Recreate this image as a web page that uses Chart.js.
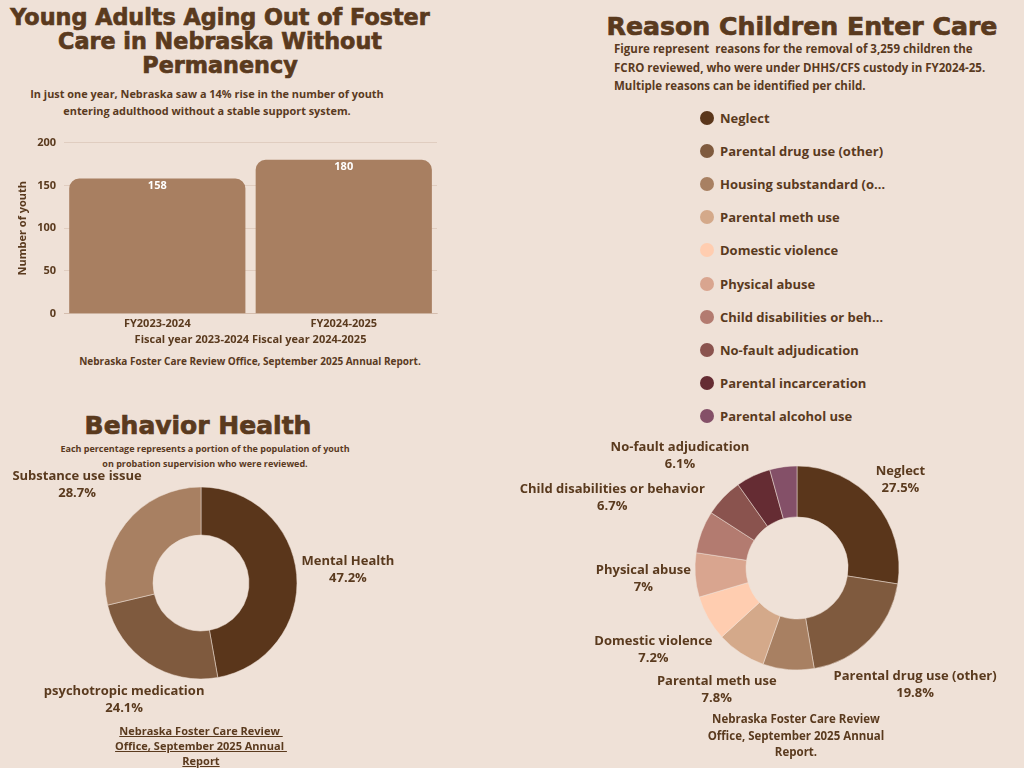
<!DOCTYPE html>
<html>
<head>
<meta charset="utf-8">
<script src="https://cdn.jsdelivr.net/npm/chart.js"></script>
<style>
  html, body { margin: 0; padding: 0; width: 1024px; height: 768px; overflow: hidden; background: #efe1d7; }
  body { position: relative; font-family: "Open Sans", sans-serif; font-weight: 700; color: #5a3a1e; }
  .abs { position: absolute; }
  .title { font-family: "DejaVu Sans", sans-serif; font-weight: 700; text-align: center; -webkit-text-stroke: 0.7px #5a3a1e; }
  .center { text-align: center; }
  #legend { left: 700px; top: 101px; }
  .item { height: 33.2px; display: flex; align-items: center; font-size: 13px; }
  .dot { width: 14px; height: 14px; border-radius: 50%; margin-right: 6px; flex: none; }
  .name { max-width: 166px; white-space: nowrap; overflow: hidden; text-overflow: ellipsis; }
</style>
</head>
<body>

<div class="abs title" style="left:0;top:5px;width:440px;font-size:22.3px;line-height:24px;">Young Adults Aging Out of Foster<br>Care in Nebraska Without<br>Permanency</div>
<div class="abs center" style="left:7px;top:85px;width:400px;font-size:10.9px;line-height:17px;">In just one year, Nebraska saw a 14% rise in the number of youth<br>entering adulthood without a stable support system.</div>
<div class="abs" style="left:12px;top:128px;width:438px;height:221px;"><canvas id="barCanvas"></canvas></div>
<div class="abs center" style="left:50px;top:353px;width:400px;font-size:10px;line-height:16px;">Nebraska Foster Care Review Office, September 2025 Annual Report.</div>

<div class="abs title" style="left:0;top:411px;width:396px;font-size:25px;line-height:30px;">Behavior Health</div>
<div class="abs center" style="left:5px;top:441px;width:400px;font-size:9px;line-height:15px;">Each percentage represents a portion of the population of youth<br>on probation supervision who were reviewed.</div>
<div class="abs" style="left:0;top:433px;width:402px;height:300px;"><canvas id="healthCanvas"></canvas></div>
<div class="abs center" style="left:101px;top:723px;width:200px;font-size:11px;line-height:15px;text-decoration:underline;">Nebraska Foster Care Review&nbsp;<br>Office, September 2025 Annual&nbsp;<br>Report</div>

<div class="abs title" style="left:562px;top:12px;width:480px;font-size:25.2px;line-height:30px;">Reason Children Enter Care</div>
<div class="abs" style="left:614px;top:40px;width:410px;font-size:11.5px;line-height:18.5px;">Figure represent&nbsp; reasons for the removal of 3,259 children the<br>FCRO reviewed, who were under DHHS/CFS custody in FY2024-25.<br>Multiple reasons can be identified per child.</div>
<div class="abs" id="legend"></div>
<div class="abs" style="left:505px;top:420px;width:519px;height:340px;"><canvas id="reasonCanvas"></canvas></div>
<div class="abs center" style="left:696px;top:711px;width:200px;font-size:11.5px;line-height:16.5px;">Nebraska Foster Care Review<br>Office, September 2025 Annual<br>Report.</div>

<script>
const fiscalYears = ["FY2023-2024", "FY2024-2025"];
const youthCounts = [158, 180];
const youthTicks = [0, 50, 100, 150, 200];

const healthLabels = ["Mental Health", "psychotropic medication", "Substance use issue"];
const healthValues = [47.2, 24.1, 28.7];

const reasonLabels = [
  "Neglect",
  "Parental drug use (other)",
  "Housing substandard (or homeless)",
  "Parental meth use",
  "Domestic violence",
  "Physical abuse",
  "Child disabilities or behavior",
  "No-fault adjudication",
  "Parental incarceration",
  "Parental alcohol use",
];
const reasonValues = [27.5, 19.8, 8.1, 7.8, 7.2, 7, 6.7, 6.1, 5.5, 4.3];

const textColor = "#5a3a1e";
const healthColors = ["#5a361b", "#7f5a3e", "#a88062"];
const reasonColors = [
  "#5a361b", "#7f5a3e", "#a88062", "#d4a98a", "#ffcdb0",
  "#d9a58f", "#b37b70", "#8a534e", "#652c33", "#845068",
];

const font = (size) => ({ family: "Open Sans", size: size, weight: "bold" });

// white value inside top of each bar
const barValues = {
  id: "barValues",
  afterDatasetsDraw(chart) {
    const ctx = chart.ctx;
    const meta = chart.getDatasetMeta(0);
    ctx.save();
    ctx.font = "bold 11px 'Open Sans'";
    ctx.fillStyle = "#ffffff";
    ctx.textAlign = "center";
    ctx.textBaseline = "middle";
    meta.data.forEach((bar, i) => {
      ctx.fillText(chart.data.datasets[0].data[i], bar.x, bar.y + 7);
    });
    ctx.restore();
  },
};

// two-line labels outside each arc, pushed out along the mid angle
const outerLabels = {
  id: "outerLabels",
  afterDatasetsDraw(chart, args, opts) {
    const ctx = chart.ctx;
    const meta = chart.getDatasetMeta(0);
    const data = chart.data.datasets[0].data;
    const lh = 17;
    ctx.save();
    ctx.font = "bold 13px 'Open Sans'";
    ctx.fillStyle = textColor;
    ctx.textAlign = "center";
    ctx.textBaseline = "middle";
    meta.data.forEach((arc, i) => {
      if ((opts.hidden || []).includes(i)) return;
      const p = arc.getProps(["x", "y", "startAngle", "endAngle", "outerRadius"], true);
      const mid = (p.startAngle + p.endAngle) / 2;
      const line1 = chart.data.labels[i];
      const line2 = data[i] + "%";
      const w = Math.max(ctx.measureText(line1).width, ctx.measureText(line2).width);
      const h = lh * 2;
      let d = p.outerRadius;
      let cx, cy;
      for (; d < p.outerRadius + 400; d += 0.5) {
        cx = Math.cos(mid) * d;
        cy = Math.sin(mid) * d;
        const nx = Math.min(Math.max(0, cx - w / 2), cx + w / 2);
        const ny = Math.min(Math.max(0, cy - h / 2), cy + h / 2);
        if (Math.hypot(nx, ny) >= p.outerRadius + 4) break;
      }
      ctx.fillText(line1, p.x + cx, p.y + cy - lh / 2);
      ctx.fillText(line2, p.x + cx, p.y + cy + lh / 2);
    });
    ctx.restore();
  },
};

new Chart(document.getElementById("barCanvas"), {
  type: "bar",
  data: {
    labels: fiscalYears,
    datasets: [
      {
        data: youthCounts,
        backgroundColor: "#a87f61",
        borderRadius: 10,
        categoryPercentage: 1,
        barPercentage: 0.945,
      },
    ],
  },
  options: {
    responsive: true,
    maintainAspectRatio: false,
    animation: false,
    layout: { padding: { top: 4, right: 13 } },
    scales: {
      x: {
        ticks: { color: textColor, font: font(11), padding: 3 },
        grid: { display: false, drawTicks: false },
        border: { color: "rgba(190,160,140,0.35)" },
        title: {
          display: true,
          text: "Fiscal year 2023-2024 Fiscal year 2024-2025",
          color: textColor,
          font: { family: "Open Sans", size: 11, weight: "bold", lineHeight: 1 },
          padding: { top: 1, bottom: 4 },
        },
      },
      y: {
        min: youthTicks[0],
        max: youthTicks[youthTicks.length - 1],
        afterBuildTicks: (axis) => {
          axis.ticks = youthTicks.map((v) => ({ value: v }));
        },
        ticks: { color: textColor, font: font(11), padding: 8 },
        grid: { color: "rgba(190,160,140,0.3)", drawTicks: false },
        border: { display: false },
        title: {
          display: true,
          text: "Number of youth",
          color: textColor,
          font: font(11),
          padding: { top: 4, bottom: 0 },
        },
      },
    },
    plugins: {
      legend: { display: false },
      tooltip: { enabled: false },
    },
  },
  plugins: [barValues],
});

new Chart(document.getElementById("healthCanvas"), {
  type: "doughnut",
  data: {
    labels: healthLabels,
    datasets: [
      {
        data: healthValues,
        backgroundColor: healthColors,
        borderColor: "rgba(239,225,215,0.5)",
        borderWidth: 1,
      },
    ],
  },
  options: {
    responsive: true,
    maintainAspectRatio: false,
    animation: false,
    radius: 96,
    cutout: "50%",
    plugins: {
      legend: { display: false },
      tooltip: { enabled: false },
      outerLabels: {},
    },
  },
  plugins: [outerLabels],
});

new Chart(document.getElementById("reasonCanvas"), {
  type: "doughnut",
  data: {
    labels: reasonLabels,
    datasets: [
      {
        data: reasonValues,
        backgroundColor: reasonColors,
        borderColor: "rgba(239,225,215,0.5)",
        borderWidth: 1,
      },
    ],
  },
  options: {
    responsive: true,
    maintainAspectRatio: false,
    animation: false,
    radius: 102,
    cutout: "50%",
    layout: { padding: { left: 65, right: 0, top: 0, bottom: 44 } },
    plugins: {
      legend: { display: false },
      tooltip: { enabled: false },
      outerLabels: { hidden: [2, 8, 9] },
    },
  },
  plugins: [outerLabels],
});

// legend list above the reasons doughnut
const legend = document.getElementById("legend");
reasonLabels.forEach((label, i) => {
  const row = document.createElement("div");
  row.className = "item";
  row.innerHTML =
    '<span class="dot" style="background:' + reasonColors[i] + '"></span>' +
    '<span class="name">' + label + "</span>";
  legend.appendChild(row);
});
</script>
</body>
</html>
